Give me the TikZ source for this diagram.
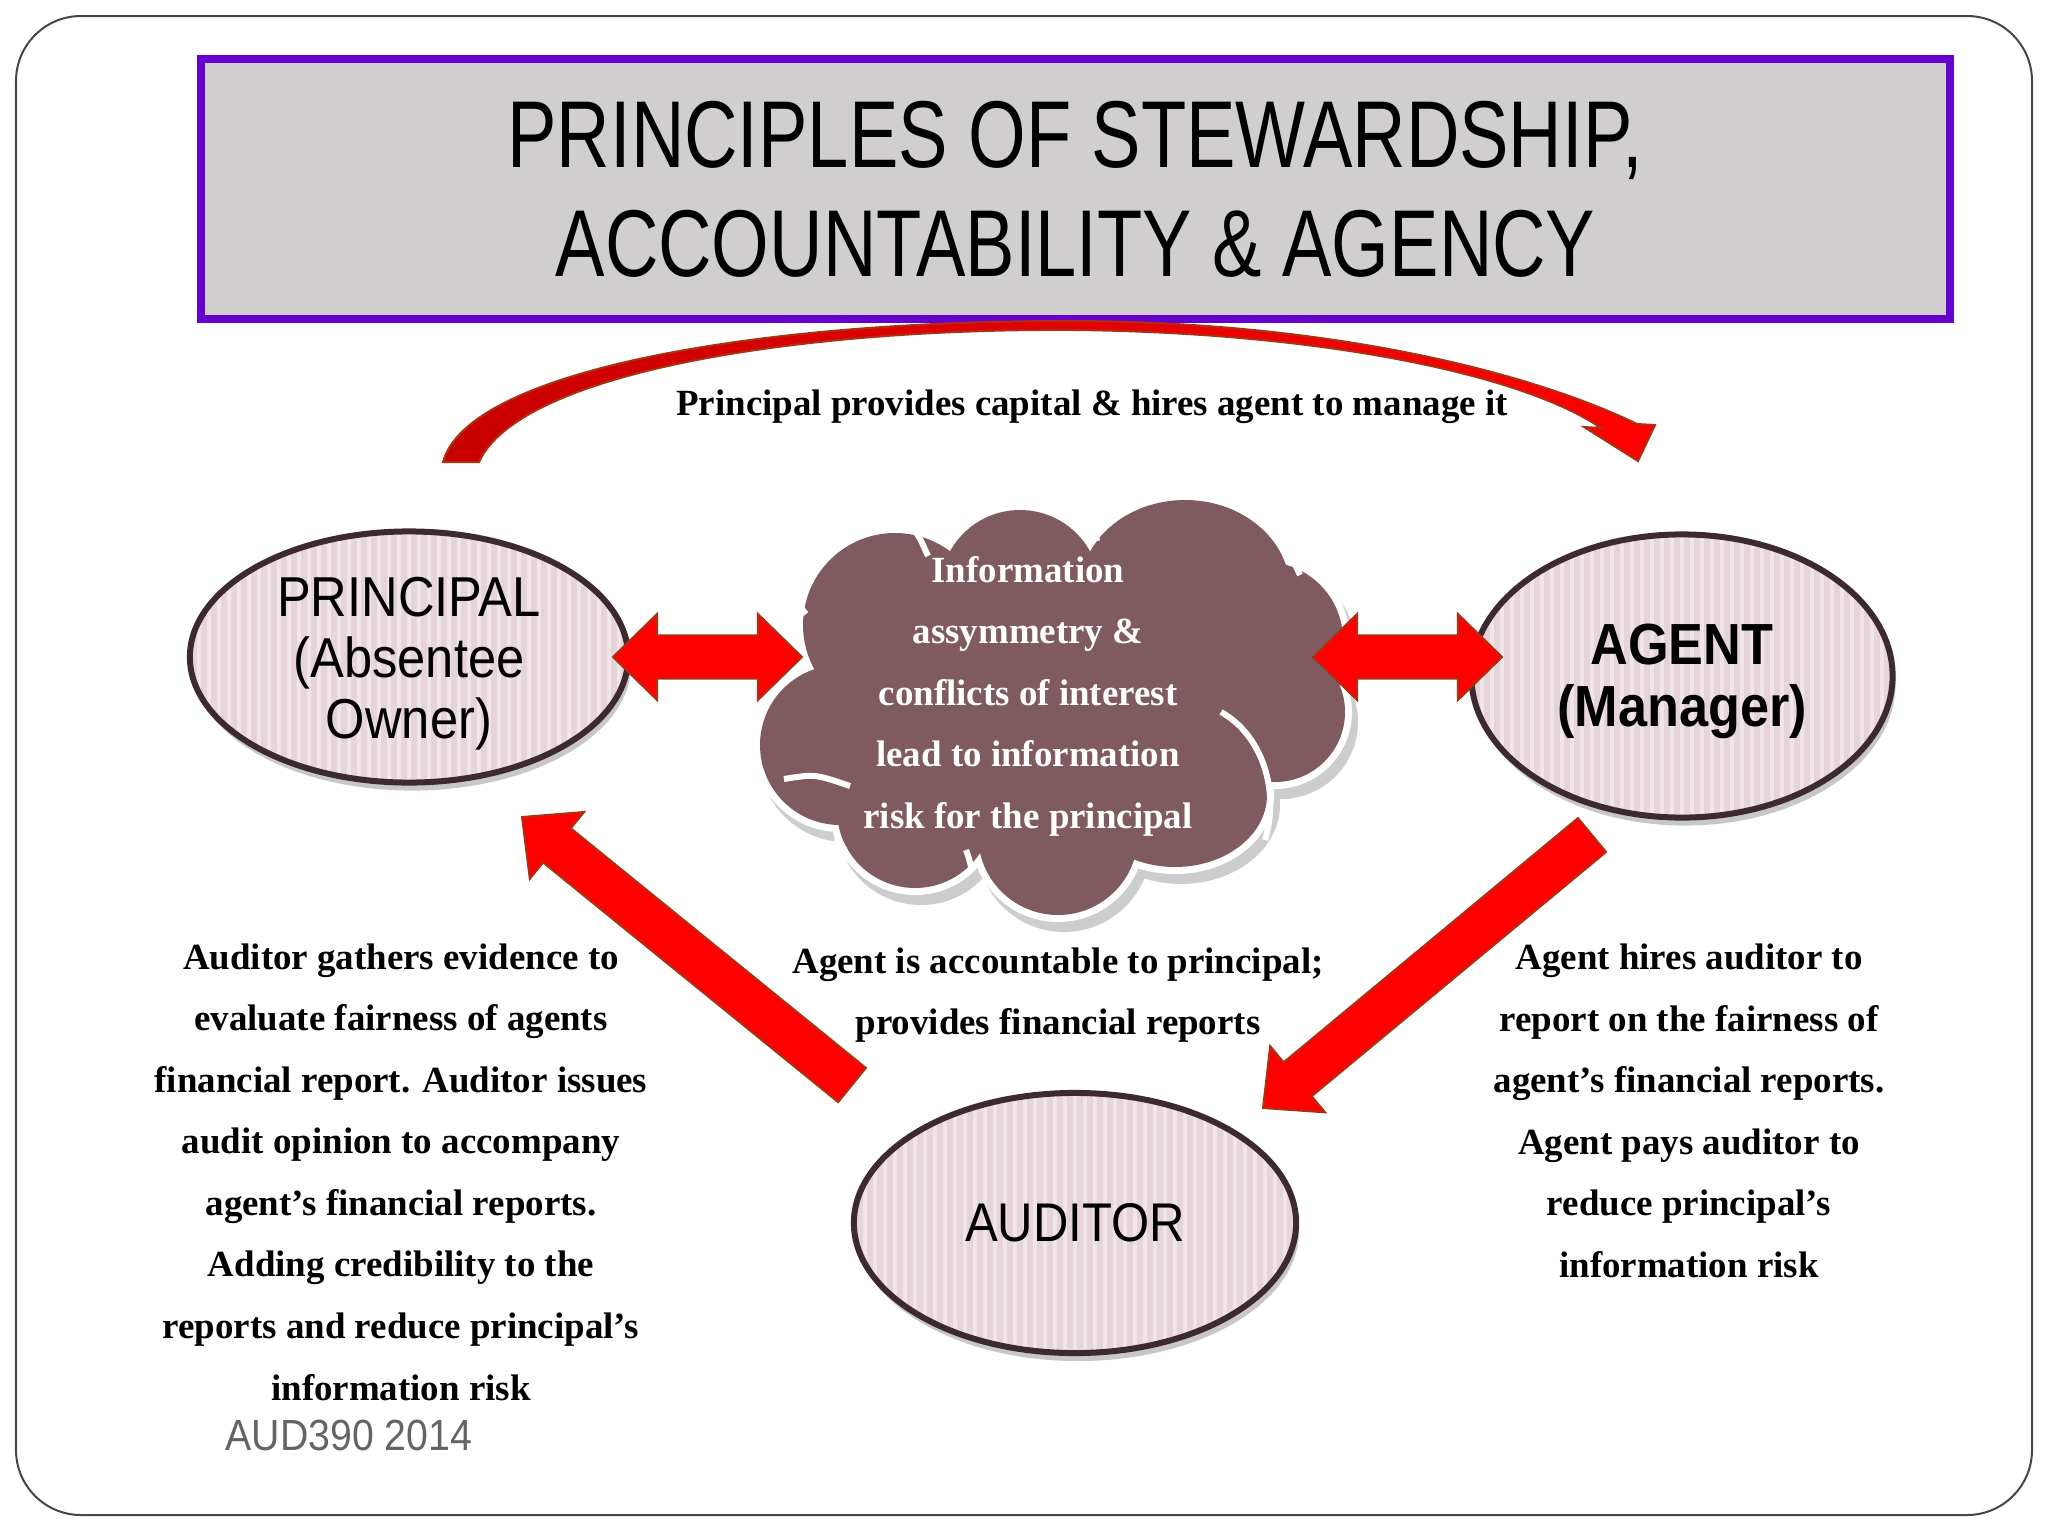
\documentclass[tikz,border=0pt]{standalone}
\usepackage{fontspec}
\setmainfont{Liberation Serif}
\newfontfamily\headfont[FakeStretch=0.78]{Liberation Sans}
\newfontfamily\rolefont[FakeStretch=0.9]{Liberation Sans}
\usetikzlibrary{calc,shapes.geometric,shadows}
\definecolor{title_purple}{RGB}{102,0,204}
\definecolor{title_gray}{RGB}{208,206,206}
\definecolor{frame_gray}{RGB}{70,70,70}
\definecolor{role_fill}{RGB}{229,213,217}
\definecolor{role_stripe}{RGB}{240,230,233}
\definecolor{role_rim}{RGB}{61,42,46}
\definecolor{cloud_brown}{RGB}{127,90,94}
\definecolor{cloud_shade}{RGB}{205,205,205}
\definecolor{arrow_red}{RGB}{255,0,0}
\definecolor{arrow_dark}{RGB}{200,0,0}
\definecolor{arrow_rim}{RGB}{170,50,20}
\definecolor{note_gray}{RGB}{100,100,100}

% block arrow: tail, tip, half shaft, half head, head length
\newcommand{\blockarrow}[5]{%
  \path ($(#2)!#5!(#1)$) coordinate (neck);
  \filldraw[fatarrow] ($(#1)!#3!90:(#2)$) -- ($(neck)!#3!-90:(#1)$) -- ($(neck)!#4!-90:(#1)$) -- (#2)
    -- ($(neck)!#4!90:(#1)$) -- ($(neck)!#3!90:(#1)$) -- ($(#1)!#3!-90:(#2)$) -- cycle;}
% double block arrow: tip, tip, half shaft, half head, head length
\newcommand{\dblarrow}[5]{%
  \path ($(#1)!#5!(#2)$) coordinate (neckA) ($(#2)!#5!(#1)$) coordinate (neckB);
  \filldraw[fatarrow] (#1) -- ($(neckA)!#4!90:(#2)$) -- ($(neckA)!#3!90:(#2)$) -- ($(neckB)!#3!-90:(#1)$)
    -- ($(neckB)!#4!-90:(#1)$) -- (#2) -- ($(neckB)!#4!90:(#1)$) -- ($(neckB)!#3!90:(#1)$)
    -- ($(neckA)!#3!-90:(#2)$) -- ($(neckA)!#4!-90:(#2)$) -- cycle;}

\begin{document}
\begin{tikzpicture}[x=0.01cm,y=-0.01cm]
    \tikzstyle{role}=[ellipse, draw=role_rim, line width=0.06cm, fill=role_fill, inner sep=0pt, text=black, align=center,
      drop shadow={shadow xshift=0.03cm, shadow yshift=-0.08cm, fill=black, opacity=0.22},
      path picture={\foreach \k in {-25,...,25}
        \draw[role_stripe, line width=0.035cm] ([xshift=\k*0.1cm]path picture bounding box.north) -- ([xshift=\k*0.1cm]path picture bounding box.south);}]
    \tikzstyle{note}=[align=center, font=\bfseries\fontsize{10.5}{17.5}\selectfont, text=black]
    \tikzstyle{fatarrow}=[fill=arrow_red, draw=arrow_rim, line width=0.02cm, line join=miter]

    \useasboundingbox (0,0) rectangle (2048,1536);
    \draw[frame_gray, line width=0.02cm, rounded corners=0.65cm] (16,16) rectangle (2032,1515);

    % title
    \node[draw=title_purple, fill=title_gray, line width=0.08cm, minimum width=17.47cm, minimum height=2.6cm,
      align=center, font=\headfont\fontsize{27}{31}\selectfont] (title) at (1075.5,189)
      {PRINCIPLES OF STEWARDSHIP,\\ACCOUNTABILITY \& AGENCY};

    % capital arrow, principal -> agent
    \coordinate (capTail) at (461,462);
    \coordinate (capTip) at (1638,461);
    \filldraw[fatarrow, left color=arrow_dark, right color=arrow_red]
      (443,462) .. controls (468,370) and (760,320) .. (1075,321)
      .. controls (1330,322) and (1530,372) .. (1637,424)
      -- (1655,425) -- (capTip) -- (1584,427) -- (1601,428)
      .. controls (1525,376) and (1330,333) .. (1075,330)
      .. controls (800,328) and (520,372) .. (479,462) -- cycle;
    \node[note] (capital) at (1092,407) {Principal provides capital \& hires agent to manage it};

    % cloud
    \foreach \cx/\cy/\rx/\ry in {895/625/92/92, 1020/590/80/80, 1185/590/105/90, 1265/640/78/78, 1275/712/70/70,
                                  1175/795/92/72, 1058/835/80/80, 915/810/78/78, 840/745/80/80}
      \fill[cloud_shade] (\cx+6,\cy+10) ellipse [x radius=\rx+7, y radius=\ry+7];
    \foreach \cx/\cy/\rx/\ry in {895/625/92/92, 1020/590/80/80, 1185/590/105/90, 1265/640/78/78, 1275/712/70/70,
                                  1175/795/92/72, 1058/835/80/80, 915/810/78/78, 840/745/80/80}
      \fill[white] (\cx,\cy) ellipse [x radius=\rx+7, y radius=\ry+7];
    \foreach \cx/\cy/\rx/\ry in {895/625/92/92, 1020/590/80/80, 1185/590/105/90, 1265/640/78/78, 1275/712/70/70,
                                  1175/795/92/72, 1058/835/80/80, 915/810/78/78, 840/745/80/80, 1050/710/200/140}
      \fill[cloud_brown] (\cx,\cy) ellipse [x radius=\rx, y radius=\ry];
    \draw[white, line width=0.06cm]
      (913,528) .. controls (920,538) .. (928,556)
      (1091,514) .. controls (1094,525) .. (1097,541)
      (1286,552) .. controls (1293,560) .. (1300,575)
      (784,596) .. controls (795,601) .. (806,614)
      (784,779) .. controls (815,774) .. (850,786)
      (836,838) .. controls (842,845) .. (848,857)
      (966,850) .. controls (969,858) .. (972,871)
      (1221,712) .. controls (1262,735) and (1280,790) .. (1265,840);
    \node[note, text=white] (cloud) at (1028,696)
      {Information\\assymmetry \&\\conflicts of interest\\lead to information\\risk for the principal};

    % parties
    \node[role, inner ysep=-0.1cm, minimum width=4.38cm, minimum height=2.51cm, font=\rolefont\fontsize{16}{17.4}\selectfont]
      (principal) at (409,657) {\rule{0pt}{15pt}PRINCIPAL\\(Absentee\\Owner)};
    \node[role, minimum width=4.21cm, minimum height=2.83cm, font=\rolefont\bfseries\fontsize{16.5}{17.6}\selectfont]
      (agent) at (1682,676) {\rule{0pt}{14.6pt}AGENT\\(Manager)};
    \node[role, minimum width=4.42cm, minimum height=2.6cm, font=\rolefont\fontsize{15.5}{17}\selectfont]
      (auditor) at (1075,1223) {AUDITOR};

    % connectors
    \coordinate (pcL) at (613,657);
    \coordinate (pcR) at (802,657);
    \coordinate (caL) at (1313,657);
    \coordinate (caR) at (1502,657);
    \coordinate (auditOut) at (852,1085);
    \coordinate (principalIn) at (522,817);
    \coordinate (agentOut) at (1592,835);
    \coordinate (auditIn) at (1263,1108);
    \dblarrow{pcL}{pcR}{0.215cm}{0.43cm}{0.44cm}
    \dblarrow{caL}{caR}{0.215cm}{0.43cm}{0.44cm}
    \blockarrow{auditOut}{principalIn}{0.22cm}{0.43cm}{0.45cm}
    \blockarrow{agentOut}{auditIn}{0.22cm}{0.43cm}{0.45cm}

    % notes
    \node[note] (accountable) at (1058,995) {Agent is accountable to principal;\\provides financial reports};
    \node[note] (auditnote) at (401,1172) {Auditor gathers evidence to\\evaluate fairness of agents\\financial report. Auditor issues\\audit opinion to accompany\\agent’s financial reports.\\Adding credibility to the\\reports and reduce principal’s\\information risk};
    \node[note] (hirenote) at (1689,1111) {Agent hires auditor to\\report on the fairness of\\agent’s financial reports.\\Agent pays auditor to\\reduce principal’s\\information risk};
    \node[text=note_gray, font=\rolefont\fontsize{12.4}{14}\selectfont] (course) at (349,1435) {AUD390 2014};
\end{tikzpicture}
\end{document}
